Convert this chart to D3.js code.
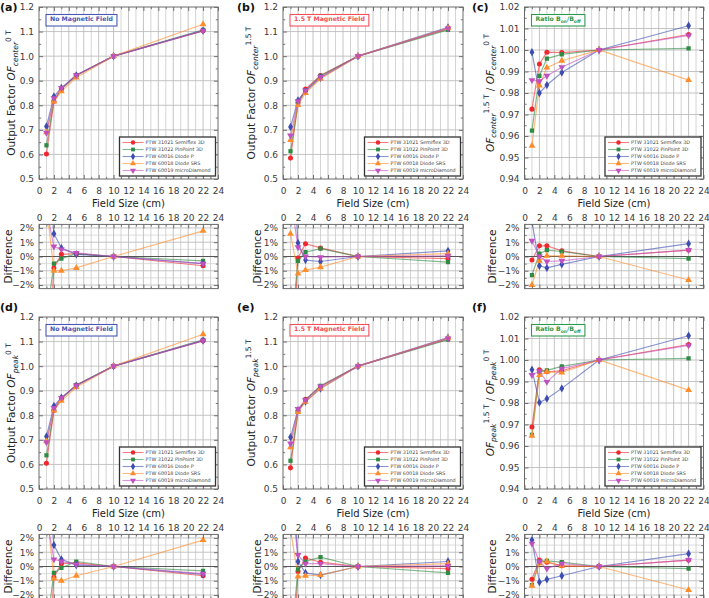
<!DOCTYPE html>
<html><head><meta charset="utf-8">
<script src="https://cdn.jsdelivr.net/npm/d3@7"></script>
<style>body{margin:0;background:#fff}svg text{font-family:"DejaVu Sans",Verdana,sans-serif}</style>
</head><body><svg id="c" width="709" height="598"></svg>
<script>
// ---------- DATA ----------
const fieldSizes = [1, 2, 3, 5, 10, 22];
const detectors = ["PTW 31021 Semiflex 3D", "PTW 31022 PinPoint 3D", "PTW 60016 Diode P", "PTW 60018 Diode SRS", "PTW 60019 microDiamond"];
const xTicks = [0, 2, 4, 6, 8, 10, 12, 14, 16, 18, 20, 22, 24];
const diffTicks = [-2, -1, 0, 1, 2];

// (a) OF center, 0 T  (rows: detectors)
const ofCenter0T = [
  [0.602, 0.816, 0.867, 0.922, 1.0, 1.103],
  [0.637, 0.819, 0.865, 0.922, 1.0, 1.107],
  [0.714, 0.836, 0.871, 0.922, 1.0, 1.104],
  [0.690, 0.815, 0.857, 0.913, 1.0, 1.130],
  [0.688, 0.829, 0.870, 0.922, 1.0, 1.104]];
const diffCenter0T = [
  [-9.6, -0.8, 0.15, 0.2, 0, -0.65],
  [-4.4, -0.5, -0.15, 0.2, 0, -0.3],
  [7.2, 1.6, 0.6, 0.15, 0, -0.5],
  [3.6, -1.0, -1.0, -0.8, 0, 1.8],
  [3.3, 0.7, 0.5, 0.25, 0, -0.5]];
// (b) OF center, 1.5 T
const ofCenter15T = [
  [0.585, 0.811, 0.866, 0.921, 1.0, 1.111],
  [0.613, 0.806, 0.861, 0.920, 1.0, 1.107],
  [0.712, 0.820, 0.857, 0.912, 1.0, 1.117],
  [0.659, 0.801, 0.850, 0.908, 1.0, 1.114],
  [0.677, 0.817, 0.860, 0.915, 1.0, 1.113]];
const diffCenter15T = [
  [-9.7, -0.1, 0.9, 0.6, 0, -0.15],
  [-5.7, -0.3, 0.3, 0.55, 0, -0.4],
  [9.5, 0.95, -0.25, -0.35, 0, 0.4],
  [1.6, -1.2, -0.95, -0.75, 0, 0.2],
  [4.2, 0.65, 0.0, -0.05, 0, 0.05]];
// (c) ratio center
const ratioCenter = [
  [0.9725, 0.9935, 0.999, 0.9988, 1.0, 1.0072],
  [0.9625, 0.988, 0.996, 0.998, 1.0, 1.0008],
  [0.999, 0.980, 0.9837, 0.9895, 1.0, 1.0113],
  [0.9555, 0.9835, 0.9918, 0.995, 1.0, 0.986],
  [0.986, 0.9855, 0.988, 0.992, 1.0, 1.0068]];
const diffRatioCenter = [
  [-0.25, 0.75, 0.75, 0.4, 0, 0.45],
  [-1.3, 0.2, 0.45, 0.35, 0, -0.15],
  [2.45, -0.65, -0.8, -0.55, 0, 0.9],
  [-2.0, -0.3, 0.05, 0.05, 0, -1.65],
  [1.1, 0.0, -0.35, -0.3, 0, 0.45]];
// (d) OF peak, 0 T
const ofPeak0T = [
  [0.605, 0.820, 0.870, 0.922, 1.0, 1.103],
  [0.637, 0.822, 0.867, 0.923, 1.0, 1.107],
  [0.714, 0.838, 0.872, 0.921, 1.0, 1.104],
  [0.694, 0.819, 0.859, 0.914, 1.0, 1.130],
  [0.690, 0.830, 0.871, 0.921, 1.0, 1.105]];
const diffPeak0T = [
  [-9.2, -0.75, 0.2, 0.25, 0, -0.65],
  [-4.4, -0.45, -0.1, 0.35, 0, -0.3],
  [7.1, 1.5, 0.5, 0.1, 0, -0.55],
  [4.1, -0.85, -1.0, -0.65, 0, 1.85],
  [3.5, 0.5, 0.35, 0.15, 0, -0.5]];
// (e) OF peak, 1.5 T
const ofPeak15T = [
  [0.586, 0.816, 0.865, 0.917, 1.0, 1.111],
  [0.615, 0.817, 0.863, 0.920, 1.0, 1.108],
  [0.711, 0.821, 0.856, 0.909, 1.0, 1.116],
  [0.670, 0.813, 0.855, 0.909, 1.0, 1.114],
  [0.685, 0.826, 0.862, 0.917, 1.0, 1.113]];
const diffPeak15T = [
  [-10, -0.35, 0.6, 0.3, 0, -0.15],
  [-5.8, -0.2, 0.35, 0.65, 0, -0.45],
  [8.9, 0.35, -0.45, -0.6, 0, 0.35],
  [2.6, -0.7, -0.65, -0.6, 0, 0.2],
  [4.9, 0.8, 0.2, 0.2, 0, 0.05]];
// (f) ratio peak
const ratioPeak = [
  [0.9688, 0.9955, 0.9945, 0.995, 1.0, 1.0072],
  [0.9652, 0.9945, 0.9952, 0.997, 1.0, 1.0008],
  [0.9955, 0.9802, 0.982, 0.9868, 1.0, 1.0113],
  [0.9648, 0.993, 0.9945, 0.9942, 1.0, 0.986],
  [0.993, 0.9948, 0.9898, 0.996, 1.0, 1.0068]];
const diffRatioPeak = [
  [-0.9, 0.45, 0.3, 0.05, 0, 0.45],
  [-1.3, 0.35, 0.4, 0.3, 0, -0.15],
  [1.85, -1.1, -0.9, -0.65, 0, 0.9],
  [-1.35, 0.2, 0.35, 0.05, 0, -1.65],
  [1.6, 0.35, -0.15, 0.2, 0, 0.45]];

// ---------- STYLE ----------
const colors = ["#f0282d", "#2e8b43", "#3c4cb0", "#ff8c2a", "#c050c0"];
const symTypes = [d3.symbolCircle, d3.symbolSquare, d3.symbolDiamond, d3.symbolTriangle, d3.symbolTriangle];
const symRot = [0, 0, 0, 0, 180];
const symSize = [20, 18, 20, 20, 20];

const svg = d3.select("#c");
const defs = svg.append("defs");
const cols = [[39, 218], [283, 463], [524.5, 703.5]];
const rowOff = [0, 310];
const mainLabelOff = [-24, -28, -31];
const diffLabelOff = [-27, -22, -29];
const letterX = [0, 237, 472];
const letterY = [11, 311];

const panels = [
  {L: "(a)", row: 0, col: 0, main: ofCenter0T, diff: diffCenter0T, dom: [0.5, 1.2], step: 0.1, fmt: ".1f", lab: {kind: "of", sub: "center", sup: "0 T"}, box: {kind: "no"}},
  {L: "(b)", row: 0, col: 1, main: ofCenter15T, diff: diffCenter15T, dom: [0.5, 1.2], step: 0.1, fmt: ".1f", lab: {kind: "of", sub: "center", sup: "1.5 T"}, box: {kind: "mag"}},
  {L: "(c)", row: 0, col: 2, main: ratioCenter, diff: diffRatioCenter, dom: [0.94, 1.02], step: 0.01, fmt: ".2f", lab: {kind: "ratio", sub: "center"}, box: {kind: "ratio"}},
  {L: "(d)", row: 1, col: 0, main: ofPeak0T, diff: diffPeak0T, dom: [0.5, 1.2], step: 0.1, fmt: ".1f", lab: {kind: "of", sub: "peak", sup: "0 T"}, box: {kind: "no"}},
  {L: "(e)", row: 1, col: 1, main: ofPeak15T, diff: diffPeak15T, dom: [0.5, 1.2], step: 0.1, fmt: ".1f", lab: {kind: "of", sub: "peak", sup: "1.5 T"}, box: {kind: "mag"}},
  {L: "(f)", row: 1, col: 2, main: ratioPeak, diff: diffRatioPeak, dom: [0.94, 1.02], step: 0.01, fmt: ".2f", lab: {kind: "ratio", sub: "peak"}, box: {kind: "ratio"}}
];

const gridCol = "#cfcfcf", gridMajor = "#bdbdbd", frameCol = "#6a6a6a", tickCol = "#555", textCol = "#3a3a3a";

function richText(sel, parts, fs) {
  let cur = 0;
  parts.forEach(p => {
    const small = p.s === "sub" || p.s === "sup";
    const target = p.s === "sub" ? 0.28 * fs : p.s === "sup" ? -0.42 * fs : 0;
    const t = sel.append("tspan").text(p.t).attr("dy", (target - cur).toFixed(2));
    cur = target;
    if (small) t.attr("font-size", (fs * 0.72).toFixed(2));
    if (p.i) t.attr("font-style", "italic");
  });
}

function styleAxis(g) {
  g.select(".domain").remove();
  g.selectAll("line").attr("stroke", tickCol).attr("stroke-width", 0.8);
  g.selectAll("text").attr("fill", textCol).attr("font-size", 9).attr("font-family", "DejaVu Sans, sans-serif");
}

function frameAxes(g, x, y, yTicks, yMinor, x0, x1, yT, yB, opt) {
  const xMinor = d3.range(1, 24, 2);
  const b = g.append("g").attr("transform", `translate(0,${yB})`);
  b.call(d3.axisBottom(x).tickValues(xTicks).tickSize(-4).tickPadding(opt.bottomLabels ? 8.5 : 0).tickFormat(opt.bottomLabels ? d3.format("d") : ""));
  styleAxis(b);
  const bm = g.append("g").attr("transform", `translate(0,${yB})`);
  bm.call(d3.axisBottom(x).tickValues(xMinor).tickSize(-2.2).tickFormat(""));
  styleAxis(bm);
  const t = g.append("g").attr("transform", `translate(0,${yT})`);
  t.call(d3.axisTop(x).tickValues(xTicks).tickSize(-4).tickPadding(opt.topLabels ? 3.5 : 0).tickFormat(opt.topLabels ? d3.format("d") : ""));
  styleAxis(t);
  const tm = g.append("g").attr("transform", `translate(0,${yT})`);
  tm.call(d3.axisTop(x).tickValues(xMinor).tickSize(-2.2).tickFormat(""));
  styleAxis(tm);
  const l = g.append("g").attr("transform", `translate(${x0},0)`);
  l.call(d3.axisLeft(y).tickValues(yTicks).tickSize(-4).tickPadding(5).tickFormat(opt.yFmt));
  styleAxis(l);
  const lm = g.append("g").attr("transform", `translate(${x0},0)`);
  lm.call(d3.axisLeft(y).tickValues(yMinor).tickSize(-2.2).tickFormat(""));
  styleAxis(lm);
  const r = g.append("g").attr("transform", `translate(${x1},0)`);
  r.call(d3.axisRight(y).tickValues(yTicks).tickSize(-4).tickFormat(""));
  styleAxis(r);
  const rm = g.append("g").attr("transform", `translate(${x1},0)`);
  rm.call(d3.axisRight(y).tickValues(yMinor).tickSize(-2.2).tickFormat(""));
  styleAxis(rm);
  g.append("rect").attr("x", x0).attr("y", yT).attr("width", x1 - x0).attr("height", yB - yT)
    .attr("fill", "none").attr("stroke", frameCol).attr("stroke-width", 1);
}

function drawSeries(g, x, y, data, clipId) {
  const sg = g.append("g").attr("clip-path", `url(#${clipId})`);
  const line = d3.line().x((d, i) => x(fieldSizes[i])).y(d => y(d));
  data.forEach((s, k) => {
    sg.append("path").attr("d", line(s)).attr("fill", "none").attr("stroke", colors[k])
      .attr("stroke-width", 1.2).attr("stroke-opacity", 0.6);
  });
  data.forEach((s, k) => {
    sg.selectAll(null).data(s).join("path")
      .attr("d", d3.symbol().type(symTypes[k]).size(symSize[k]))
      .attr("transform", (d, i) => `translate(${x(fieldSizes[i])},${y(d)}) rotate(${symRot[k]})`)
      .attr("fill", colors[k]);
  });
}

panels.forEach((p, pi) => {
  const [x0, x1] = cols[p.col];
  const r = rowOff[p.row];
  const g = svg.append("g");
  const x = d3.scaleLinear().domain([0, 24]).range([x0, x1]);
  const mT = r + 7, mB = r + 179;
  const y = d3.scaleLinear().domain(p.dom).range([mB, mT]);
  const nSteps = Math.round((p.dom[1] - p.dom[0]) / p.step);
  const yTicks = d3.range(nSteps + 1).map(i => +(p.dom[0] + i * p.step).toFixed(4));
  const yMinor = d3.range(nSteps).map(i => +(p.dom[0] + (i + 0.5) * p.step).toFixed(4));
  const grid = g.append("g");
  d3.range(1, 24).forEach(v => {
    grid.append("line").attr("x1", x(v)).attr("x2", x(v)).attr("y1", mT).attr("y2", mB)
      .attr("stroke", v % 2 ? gridCol : gridMajor).attr("stroke-width", 0.9);
  });
  yTicks.slice(1, -1).forEach(v => {
    grid.append("line").attr("x1", x0).attr("x2", x1).attr("y1", y(v)).attr("y2", y(v))
      .attr("stroke", gridMajor).attr("stroke-width", 0.9);
  });
  const clipM = "clipm" + pi;
  defs.append("clipPath").attr("id", clipM).append("rect").attr("x", x0).attr("y", mT).attr("width", x1 - x0).attr("height", mB - mT);
  drawSeries(g, x, y, p.main, clipM);
  frameAxes(g, x, y, yTicks, yMinor, x0, x1, mT, mB, {bottomLabels: true, topLabels: false, yFmt: d3.format(p.fmt)});

  const bx = g.append("g");
  const bt = bx.append("text").attr("x", x0 + 11).attr("y", mT + 14.3).attr("font-size", 6.2).attr("font-weight", "bold");
  let bcol;
  if (p.box.kind === "no") { bcol = "#4a58b2"; bt.text("No Magnetic Field"); }
  else if (p.box.kind === "mag") { bcol = "#f0505a"; bt.text("1.5 T Magnetic Field"); }
  else {
    bcol = "#2e9a50";
    richText(bt, [{t: "Ratio B"}, {t: "on", s: "sub"}, {t: "/B"}, {t: "off", s: "sub"}], 6.2);
  }
  bt.attr("fill", bcol);
  const bb = bt.node().getBBox();
  bx.insert("rect", "text").attr("x", x0 + 7).attr("y", mT + 7.5).attr("width", bb.width + 8).attr("height", 11.5)
    .attr("fill", "#fff").attr("stroke", bcol).attr("stroke-width", 1.1);

  const lw = 96, lh = 39;
  const lx = x1 - 2.5 - lw, ly = mB - 3 - lh;
  const lg = g.append("g");
  lg.append("rect").attr("x", lx).attr("y", ly).attr("width", lw).attr("height", lh)
    .attr("fill", "#fff").attr("stroke", "#333").attr("stroke-width", 1.3);
  detectors.forEach((name, k) => {
    const yy = ly + 5.5 + k * 7;
    lg.append("line").attr("x1", lx + 3).attr("x2", lx + 24).attr("y1", yy).attr("y2", yy)
      .attr("stroke", colors[k]).attr("stroke-width", 1.1).attr("stroke-opacity", 0.6);
    lg.append("path").attr("d", d3.symbol().type(symTypes[k]).size(symSize[k] * 0.8))
      .attr("transform", `translate(${lx + 13.5},${yy}) rotate(${symRot[k]})`).attr("fill", colors[k]);
    lg.append("text").attr("x", lx + 26).attr("y", yy).attr("dy", "0.35em").attr("font-size", 4.9)
      .attr("fill", "#444").text(name);
  });

  const fs = 10.5;
  const yl = g.append("text").attr("transform", `translate(${x0 + mainLabelOff[p.col]},${(mT + mB) / 2}) rotate(-90)`)
    .attr("text-anchor", "middle").attr("font-size", fs).attr("fill", "#222");
  if (p.lab.kind === "of") {
    richText(yl, [{t: "Output Factor "}, {t: "OF", i: 1}, {t: p.lab.sub, i: 1, s: "sub"}, {t: p.lab.sup, s: "sup"}], fs);
  } else {
    richText(yl, [{t: "OF", i: 1}, {t: p.lab.sub, i: 1, s: "sub"}, {t: "1.5 T", s: "sup"}, {t: " / "}, {t: "OF", i: 1}, {t: p.lab.sub, i: 1, s: "sub"}, {t: "0 T", s: "sup"}], fs);
  }
  g.append("text").attr("x", (x0 + x1) / 2).attr("y", r + 206.5).attr("text-anchor", "middle")
    .attr("font-size", 10).attr("fill", "#222").text("Field Size (cm)");

  svg.append("text").attr("x", letterX[p.col]).attr("y", letterY[p.row]).attr("font-size", 11)
    .attr("font-weight", "bold").attr("fill", "#111").text(p.L);

  const dT = r + 224.4, dB = r + 288.6;
  const yd = d3.scaleLinear().domain([-2.25, 2.25]).range([dB, dT]);
  const dg = g.append("g");
  d3.range(1, 24).forEach(v => {
    dg.append("line").attr("x1", x(v)).attr("x2", x(v)).attr("y1", dT).attr("y2", dB)
      .attr("stroke", v % 2 ? gridCol : gridMajor).attr("stroke-width", 0.9);
  });
  [-1.5, -0.5, 0.5, 1.5].forEach(v => {
    dg.append("line").attr("x1", x0).attr("x2", x1).attr("y1", yd(v)).attr("y2", yd(v))
      .attr("stroke", gridCol).attr("stroke-width", 0.7);
  });
  [-2, -1, 1, 2].forEach(v => {
    dg.append("line").attr("x1", x0).attr("x2", x1).attr("y1", yd(v)).attr("y2", yd(v))
      .attr("stroke", gridMajor).attr("stroke-width", 0.9);
  });
  dg.append("line").attr("x1", x0).attr("x2", x1).attr("y1", yd(0)).attr("y2", yd(0))
    .attr("stroke", "#555").attr("stroke-width", 1);
  const clipD = "clipd" + pi;
  defs.append("clipPath").attr("id", clipD).append("rect").attr("x", x0).attr("y", dT).attr("width", x1 - x0).attr("height", dB - dT);
  drawSeries(dg, x, yd, p.diff, clipD);
  frameAxes(dg, x, yd, diffTicks, [-1.5, -0.5, 0.5, 1.5], x0, x1, dT, dB,
    {bottomLabels: false, topLabels: true, yFmt: d => (d < 0 ? "\u2212" : "") + Math.abs(d) + "%"});
  g.append("text").attr("transform", `translate(${x0 + diffLabelOff[p.col]},${(dT + dB) / 2}) rotate(-90)`)
    .attr("text-anchor", "middle").attr("font-size", fs).attr("fill", "#222").text("Difference");
});
</script></body></html>
